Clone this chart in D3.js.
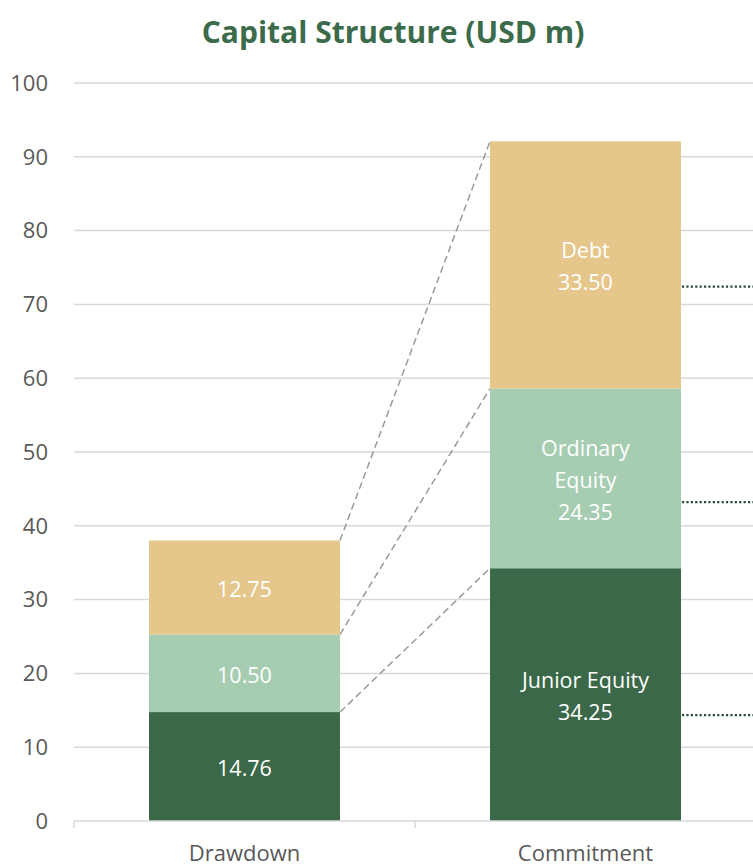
<!DOCTYPE html>
<html>
<head>
<meta charset="utf-8">
<script src="https://cdn.jsdelivr.net/npm/d3@7"></script>
<style>
  body { margin: 0; background: #fff; }
  svg { display: block; font-family: "Open Sans", "Noto Sans", sans-serif; }
</style>
</head>
<body>
<svg id="chart"></svg>
<script>
// data
const categories = ["Drawdown", "Commitment"];
const seriesNames = ["Junior Equity", "Ordinary Equity", "Debt"];
const drawdownValues = [14.76, 10.50, 12.75];
const commitmentValues = [34.25, 24.35, 33.50];
const yTicks = [0, 10, 20, 30, 40, 50, 60, 70, 80, 90, 100];
// dotted reference levels running off the right edge
const dottedLevels = [72.4, 43.2, 14.35];

const colors = ["#3A6849", "#A6CCB1", "#E5C68B"];

const W = 753, H = 867;
const margin = { top: 83, right: 0, bottom: 46, left: 74 };

const svg = d3.select("#chart").attr("width", W).attr("height", H);

const x = d3.scaleBand()
  .domain(categories)
  .range([margin.left, margin.left + 2 * 341])
  .paddingInner(0.44)
  .paddingOuter(0.22);

const y = d3.scaleLinear().domain([0, 100]).range([H - margin.bottom, margin.top]);

// title
svg.append("text")
  .attr("x", 393).attr("y", 43)
  .attr("text-anchor", "middle")
  .attr("font-size", 30).attr("font-weight", "bold")
  .attr("fill", "#3B6B4A")
  .text("Capital Structure (USD m)");

// gridlines
svg.append("g").selectAll("line")
  .data(yTicks.filter(d => d > 0))
  .join("line")
  .attr("x1", margin.left).attr("x2", W)
  .attr("y1", d => y(d)).attr("y2", d => y(d))
  .attr("stroke", "#D9D9D9").attr("stroke-width", 1.5);

// y labels
svg.append("g").selectAll("text")
  .data(yTicks)
  .join("text")
  .attr("x", 48).attr("y", d => y(d))
  .attr("dy", "0.35em")
  .attr("text-anchor", "end")
  .attr("font-size", 22).attr("fill", "#595959")
  .text(d => d);

// stack
const rows = categories.map((c, i) => {
  const vals = i === 0 ? drawdownValues : commitmentValues;
  const r = { cat: c };
  seriesNames.forEach((s, j) => r[s] = vals[j]);
  return r;
});
const stacked = d3.stack().keys(seriesNames)(rows);

// connector dashed lines between bar tops
const conn = svg.append("g");
seriesNames.forEach((s, j) => {
  const top0 = stacked[j][0][1], top1 = stacked[j][1][1];
  conn.append("line")
    .attr("x1", x("Drawdown") + x.bandwidth()).attr("y1", y(top0))
    .attr("x2", x("Commitment")).attr("y2", y(top1))
    .attr("stroke", "#9A9A9A").attr("stroke-width", 1.5)
    .attr("stroke-dasharray", "7,4");
});

// bars
const layers = svg.append("g").selectAll("g")
  .data(stacked)
  .join("g")
  .attr("fill", (d, i) => colors[i]);

layers.selectAll("rect")
  .data(d => d)
  .join("rect")
  .attr("x", d => x(d.data.cat))
  .attr("width", x.bandwidth())
  .attr("y", d => y(d[1]))
  .attr("height", d => y(d[0]) - y(d[1]));

// labels
const lineH = 32;
stacked.forEach((layer, j) => {
  layer.forEach(d => {
    const v = d[1] - d[0];
    let lines;
    if (d.data.cat === "Drawdown") lines = [v.toFixed(2)];
    else if (seriesNames[j] === "Ordinary Equity") lines = ["Ordinary", "Equity", v.toFixed(2)];
    else lines = [seriesNames[j], v.toFixed(2)];
    const cy = y((d[0] + d[1]) / 2) + 2;
    const t = svg.append("text")
      .attr("text-anchor", "middle")
      .attr("font-size", 21.5).attr("fill", "#fff");
    lines.forEach((ln, k) => {
      t.append("tspan")
        .attr("x", x(d.data.cat) + x.bandwidth() / 2)
        .attr("y", cy + (k - (lines.length - 1) / 2) * lineH)
        .attr("dy", "0.35em")
        .text(ln);
    });
  });
});

// dotted lines on the right
svg.append("g").selectAll("line")
  .data(dottedLevels)
  .join("line")
  .attr("x1", x("Commitment") + x.bandwidth() + 1).attr("x2", W)
  .attr("y1", d => y(d)).attr("y2", d => y(d))
  .attr("stroke", "#2A4A36").attr("stroke-width", 2.2)
  .attr("stroke-dasharray", "2.2,2.2");

// x axis
const xa = svg.append("g");
xa.append("line")
  .attr("x1", margin.left).attr("x2", W)
  .attr("y1", y(0)).attr("y2", y(0))
  .attr("stroke", "#D9D9D9").attr("stroke-width", 1.5);
xa.selectAll(".tick")
  .data([0, 1, 2])
  .join("line")
  .attr("x1", d => margin.left + d * x.step()).attr("x2", d => margin.left + d * x.step())
  .attr("y1", y(0)).attr("y2", y(0) + 7)
  .attr("stroke", "#D9D9D9").attr("stroke-width", 1.5);
xa.selectAll("text")
  .data(categories)
  .join("text")
  .attr("x", d => x(d) + x.bandwidth() / 2)
  .attr("y", 861)
  .attr("text-anchor", "middle")
  .attr("font-size", 22).attr("fill", "#595959")
  .text(d => d);
</script>
</body>
</html>
